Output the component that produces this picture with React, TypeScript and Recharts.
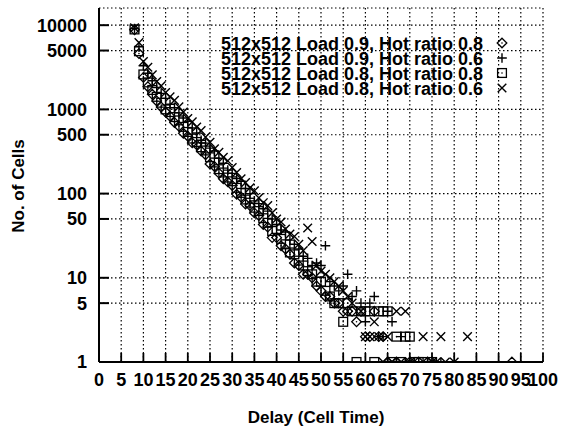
import { ScatterChart, Scatter, XAxis, YAxis, CartesianGrid, Legend, Label } from "recharts";

const delays = [
  8, 9, 10, 11, 12, 13, 14, 15, 16, 17, 18, 19, 20, 21, 22, 23, 24, 25, 26, 27, 28, 29, 30, 31, 32,
  33, 34, 35, 36, 37, 38, 39, 40, 41, 42, 43, 44, 45, 46, 47, 48, 49, 50, 51, 52, 53, 54, 55, 56,
];

const countLoad09Hot08 = [
  8800, 4600, 2400, 1860, 1510, 1260, 1070, 930, 830, 700, 630, 520, 480, 400, 380, 320, 290, 225,
  210, 175, 150, 138, 125, 98, 91, 75, 72, 59, 55, 43, 40, 30, 30, 24, 22, 19, 15, 14, 11, 11, 10,
  8, 7, 6, 6, 5, 5, 4, 4,
];
const countLoad09Hot06 = [
  9100, 5600, 3300, 2690, 2190, 1820, 1550, 1350, 1150, 1050, 910, 790, 720, 600, 525, 430, 398,
  347, 320, 263, 229, 190, 174, 151, 140, 115, 100, 82, 76, 66, 62, 50, 43, 37, 35, 28, 25, 22, 18,
  17, 14, 15, 14, 24, 9, 8, 7, 8, 11,
];
const countLoad08Hot08 = [
  8900, 4900, 2600, 2090, 1700, 1410, 1200, 1000, 930, 810, 740, 620, 540, 450, 410, 355, 325, 270,
  234, 195, 178, 155, 140, 117, 102, 85, 78, 68, 62, 51, 45, 36, 38, 29, 25, 20, 19, 16, 14, 12, 11,
  9, 9, 7, 6, 5, 5, 3, 5,
];
const countLoad08Hot06 = [
  9300, 6200, 3700, 3160, 2570, 2140, 1900, 1585, 1410, 1280, 1070, 930, 780, 710, 617, 560, 468,
  407, 340, 309, 269, 245, 204, 178, 150, 135, 117, 108, 89, 78, 72, 59, 50, 46, 38, 33, 31, 25, 21,
  39, 27, 14, 12, 11, 10, 9, 8, 7, 6,
];

// tails after delay 56: [delay, count]
const tailLoad09Hot08 = [
  [57, 4], [58, 3], [59, 4], [60, 2], [61, 2], [62, 4], [63, 2], [64, 2], [65, 1], [67, 1], [70, 1],
  [72, 1], [74, 1], [93, 1],
];
const tailLoad09Hot06 = [
  [57, 6], [58, 7], [59, 5], [60, 3], [61, 5], [62, 6], [63, 2], [64, 2], [65, 4], [66, 3], [67, 1],
  [68, 2], [69, 1], [71, 1], [74, 1], [76, 1], [77, 1],
];
const tailLoad08Hot08 = [
  [57, 4], [58, 1], [59, 4], [60, 4], [61, 4], [62, 1], [63, 4], [64, 4], [65, 4], [66, 1], [67, 2],
  [68, 1], [69, 2], [70, 2], [71, 1], [72, 1], [73, 1], [75, 1],
];
const tailLoad08Hot06 = [
  [57, 5], [59, 4], [60, 2], [61, 2], [62, 3], [63, 2], [64, 1], [65, 2], [66, 1], [67, 4], [68, 1],
  [69, 4], [70, 1], [73, 2], [75, 1], [76, 1], [77, 2], [78, 1], [80, 1], [83, 2],
];

const seriesNames = [
  "512x512 Load 0.9, Hot ratio 0.8",
  "512x512 Load 0.9, Hot ratio 0.6",
  "512x512 Load 0.8, Hot ratio 0.8",
  "512x512 Load 0.8, Hot ratio 0.6",
];

const xTicks = [0, 5, 10, 15, 20, 25, 30, 35, 40, 45, 50, 55, 60, 65, 70, 75, 80, 85, 90, 95, 100];
const yTicks = [1, 5, 10, 50, 100, 500, 1000, 5000, 10000];

const FONT = "'Liberation Sans', Arial, Helvetica, sans-serif";
const INK = "#000";

const toPoints = (counts: number[], tail: number[][]) => [
  ...delays.map((d, i) => ({ delay: d, count: counts[i] })),
  ...tail.map(([d, c]) => ({ delay: d, count: c })),
];

const Diamond = ({ cx, cy }: any) => (
  <g>
    <path d={`M${cx},${cy - 4.8}L${cx + 4.8},${cy}L${cx},${cy + 4.8}L${cx - 4.8},${cy}Z`} fill="none" stroke={INK} strokeWidth={1.3} />
    <circle cx={cx} cy={cy} r={0.8} fill={INK} />
  </g>
);
const Plus = ({ cx, cy }: any) => (
  <path d={`M${cx - 4.8},${cy}H${cx + 4.8}M${cx},${cy - 4.8}V${cy + 4.8}`} stroke={INK} strokeWidth={1.4} fill="none" />
);
const Box = ({ cx, cy }: any) => (
  <g>
    <rect x={cx - 4.4} y={cy - 4.4} width={8.8} height={8.8} fill="none" stroke={INK} strokeWidth={1.3} />
    <circle cx={cx} cy={cy} r={0.8} fill={INK} />
  </g>
);
const Cross = ({ cx, cy }: any) => (
  <path d={`M${cx - 4.3},${cy - 4.3}L${cx + 4.3},${cy + 4.3}M${cx - 4.3},${cy + 4.3}L${cx + 4.3},${cy - 4.3}`} stroke={INK} strokeWidth={1.4} fill="none" />
);

const markers = [Diamond, Plus, Box, Cross];

const LegendBox = () => (
  <svg width={561} height={110} style={{ display: "block" }}>
    {seriesNames.map((name, i) => {
      const M = markers[i];
      const cy = 43 + i * 15;
      return (
        <g key={name}>
          <text x={483} y={cy + 6.5} textAnchor="end" fontFamily={FONT} fontWeight="bold" fontSize={18} fill={INK}>
            {name}
          </text>
          <M cx={502} cy={cy} />
        </g>
      );
    })}
  </svg>
);

const tickStyle = { fill: INK, fontSize: 18, fontWeight: "bold", fontFamily: FONT };

export default function App() {
  const series = [
    toPoints(countLoad09Hot08, tailLoad09Hot08),
    toPoints(countLoad09Hot06, tailLoad09Hot06),
    toPoints(countLoad08Hot08, tailLoad08Hot08),
    toPoints(countLoad08Hot06, tailLoad08Hot06),
  ];
  return (
    <div style={{ position: "absolute", left: 0, top: 0, background: "#fff" }}>
      <ScatterChart width={561} height={432} margin={{ top: 8, right: 18, bottom: 0, left: 0 }}>
        <CartesianGrid stroke={INK} strokeDasharray="1.5 2.5" strokeWidth={1.2} />
        <XAxis
          dataKey="delay"
          type="number"
          domain={[0, 100]}
          ticks={xTicks}
          interval={0}
          allowDataOverflow
          height={70}
          tickSize={-9}
          tickMargin={20}
          tick={tickStyle}
          axisLine={{ stroke: INK, strokeWidth: 2 }}
          tickLine={{ stroke: INK, strokeWidth: 1.8 }}
        >
          <Label
            content={() => (
              <text x={316} y={423} textAnchor="middle" fontFamily={FONT} fontWeight="bold" fontSize={17} fill={INK}>
                Delay (Cell Time)
              </text>
            )}
          />
        </XAxis>
        <XAxis
          xAxisId="top"
          orientation="top"
          dataKey="delay"
          type="number"
          domain={[0, 100]}
          ticks={xTicks}
          interval={0}
          allowDataOverflow
          height={0}
          tickSize={-9}
          tick={() => <g />}
          axisLine={{ stroke: INK, strokeWidth: 2 }}
          tickLine={{ stroke: INK, strokeWidth: 1.8 }}
        />
        <YAxis
          dataKey="count"
          type="number"
          scale="log"
          domain={[1, 16000]}
          ticks={yTicks}
          interval={0}
          allowDataOverflow
          width={99}
          tickSize={-10}
          tickMargin={22}
          tick={tickStyle}
          axisLine={{ stroke: INK, strokeWidth: 2 }}
          tickLine={{ stroke: INK, strokeWidth: 2 }}
        >
          <Label
            content={() => (
              <text x={24} y={186} transform="rotate(-90 24 186)" textAnchor="middle" fontFamily={FONT} fontWeight="bold" fontSize={17} fill={INK}>
                No. of Cells
              </text>
            )}
          />
        </YAxis>
        <YAxis
          yAxisId="right"
          orientation="right"
          dataKey="count"
          type="number"
          scale="log"
          domain={[1, 16000]}
          ticks={yTicks}
          interval={0}
          allowDataOverflow
          width={0}
          tickSize={-10}
          tick={() => <g />}
          axisLine={{ stroke: INK, strokeWidth: 2 }}
          tickLine={{ stroke: INK, strokeWidth: 2 }}
        />
        <Legend
          layout="vertical"
          align="center"
          verticalAlign="middle"
          wrapperStyle={{ position: "absolute", left: 0, top: 0, width: 561, height: 110 }}
          content={() => <LegendBox />}
        />
        {series.map((pts, i) => {
          const M = markers[i];
          return (
            <Scatter
              key={seriesNames[i]}
              name={seriesNames[i]}
              data={pts}
              isAnimationActive={false}
              shape={(p: any) => <M cx={p.cx} cy={p.cy} />}
            />
          );
        })}
      </ScatterChart>
    </div>
  );
}
